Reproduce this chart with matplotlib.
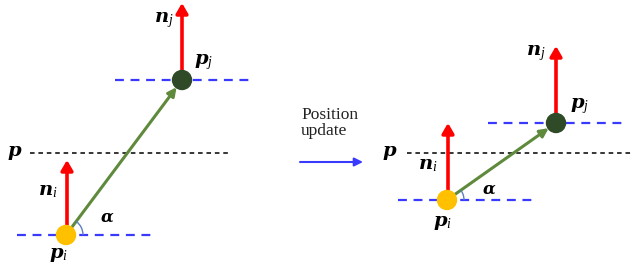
import numpy as np
import matplotlib.pyplot as plt
from matplotlib.patches import FancyArrowPatch, Circle, Arc

plt.rcParams['mathtext.fontset'] = 'custom'
plt.rcParams['mathtext.bf'] = 'DejaVu Serif:bold:italic'
plt.rcParams['mathtext.it'] = 'Liberation Serif:italic'
plt.rcParams['mathtext.rm'] = 'Liberation Serif'

# pixel layout of the two panels (x, y with y measured downwards)
pi_pos = [(66, 235), (447, 200)]
pj_pos = [(182, 80), (556, 123)]
p_line_y = [153, 153]
p_line_x = [(30, 230), (407, 632)]
p_label_x = [15, 390]
pi_dash_x = [(17, 152), (398, 532)]
pj_dash_x = [(115, 250), (488, 622)]
ni_tip_y = [160, 123]
nj_tip_y = [3, 46]
ni_label = [(48, 190), (428, 164)]
nj_label = [(164, 20), (536, 53)]
pi_label = [(59, 254), (443, 222)]
pj_label = [(204, 62), (580, 106)]
alpha_label = [(107, 217), (489, 189)]
update_text = 'Position\nupdate'

fig = plt.figure(figsize=(6.32, 2.70), dpi=100)
ax = fig.add_axes([0, 0, 1, 1])
ax.set_xlim(0, 632)
ax.set_ylim(270, 0)
ax.axis('off')

blue = '#3a3aff'
red = '#ff0000'
green = '#5f8a3c'
yellow = '#ffc000'
dgreen = '#2e4a26'
fs = 14

for k in range(2):
    xi, yi = pi_pos[k]
    xj, yj = pj_pos[k]
    # reference line p
    ax.plot(p_line_x[k], [p_line_y[k]] * 2, color='black', lw=1.1, dashes=(3, 2.5))
    ax.text(p_label_x[k], p_line_y[k], r'$\mathbf{p}$', fontsize=fs, ha='center', va='center')
    # blue dashed levels
    ax.plot(pi_dash_x[k], [yi, yi], color=blue, lw=1.6, dashes=(4, 3))
    ax.plot(pj_dash_x[k], [yj, yj], color=blue, lw=1.6, dashes=(4, 3))
    # normals
    ax.add_patch(FancyArrowPatch((xi + 1, yi - 4), (xi + 1, ni_tip_y[k]),
                                 arrowstyle='-|>,head_length=6,head_width=3.5',
                                 color=red, lw=2.6, shrinkA=0, shrinkB=0, zorder=3))
    ax.add_patch(FancyArrowPatch((xj, yj - 4), (xj, nj_tip_y[k]),
                                 arrowstyle='-|>,head_length=6,head_width=3.5',
                                 color=red, lw=2.6, shrinkA=0, shrinkB=0, zorder=3))
    # connecting vector
    ang = np.arctan2(yi - yj, xj - xi)
    ex = xj - 9 * np.cos(ang)
    ey = yj + 9 * np.sin(ang)
    ax.add_patch(FancyArrowPatch((xi, yi), (ex, ey),
                                 arrowstyle='-|>,head_length=5,head_width=2.5',
                                 color=green, lw=2.2, shrinkA=0, shrinkB=0, zorder=4))
    # angle arc
    ax.add_patch(Arc((xi, yi), 34, 34, theta1=-np.degrees(ang), theta2=0,
                     color='#5b7fc0', lw=1, zorder=5))
    # nodes
    ax.add_patch(Circle((xi, yi), 9.5, color=yellow, zorder=6))
    ax.add_patch(Circle((xj, yj), 9.5, color=dgreen, zorder=6))
    # labels
    ax.text(*ni_label[k], r'$\mathbf{n}_{i}$', fontsize=fs, ha='center', va='center')
    ax.text(*nj_label[k], r'$\mathbf{n}_{j}$', fontsize=fs, ha='center', va='center')
    ax.text(*pi_label[k], r'$\mathbf{p}_{i}$', fontsize=fs, ha='center', va='center')
    ax.text(*pj_label[k], r'$\mathbf{p}_{j}$', fontsize=fs, ha='center', va='center')
    ax.text(*alpha_label[k], r'$\mathbf{\alpha}$', fontsize=12, ha='center', va='center')

ax.text(301, 123, update_text, fontsize=12.5, family='Liberation Serif',
        ha='left', va='center', linespacing=1.0, color='#222222')
ax.add_patch(FancyArrowPatch((300, 162), (363, 162),
                             arrowstyle='-|>,head_length=5,head_width=2.5',
                             color=blue, lw=1.5, shrinkA=0, shrinkB=0))

fig.savefig('out.png', dpi=100)
